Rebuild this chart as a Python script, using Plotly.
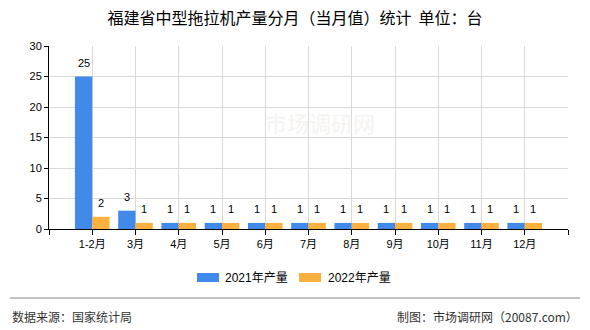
import plotly.graph_objects as go

categories = ["1-2月", "3月", "4月", "5月", "6月", "7月", "8月", "9月", "10月", "11月", "12月"]
values_2021 = [25, 3, 1, 1, 1, 1, 1, 1, 1, 1, 1]
values_2022 = [2, 1, 1, 1, 1, 1, 1, 1, 1, 1, 1]
series_names = ["2021年产量", "2022年产量"]
series_colors = ["#418AEC", "#FBB040"]
y_ticks = [0, 5, 10, 15, 20, 25, 30]

FONT = "Liberation Sans, Arial, Noto Sans CJK SC, sans-serif"
CJK = "Noto Sans CJK SC, sans-serif"
positions = list(range(1, len(categories) + 1))

W, H = 590, 330
L, R, T, B = 49, 22, 46, 101
pw, ph = W - L - R, H - T - B


def px_x(x):
    return (x - L) / pw


def px_y(y):
    return 1 - (y - T) / ph


fig = go.Figure()
for vals, name, color, off in [(values_2021, series_names[0], series_colors[0], -0.4),
                               (values_2022, series_names[1], series_colors[1], 0.0)]:
    fig.add_trace(go.Bar(
        x=positions, y=vals, name=name,
        marker=dict(color=color, line=dict(width=0)),
        width=0.4, offset=off, showlegend=False,
    ))
    for p, v in zip(positions, vals):
        fig.add_annotation(x=p + off + 0.2, y=v, text=str(v), showarrow=False,
                           xref="x", yref="y", yanchor="bottom", yshift=6,
                           font=dict(size=11, color="#000000", family=FONT))

tickvals = list(range(0, len(categories) + 2))
ticktext = [""] + categories + [""]

fig.update_layout(
    width=W, height=H,
    margin=dict(l=L, r=R, t=T, b=B, autoexpand=False),
    paper_bgcolor="white", plot_bgcolor="white",
    font=dict(family=FONT, size=11, color="#000000"),
    barmode="overlay",
    title=dict(text="福建省中型拖拉机产量分月（当月值）统计  单位：台",
               x=0.5, xanchor="center", y=1 - 18 / H, yanchor="middle",
               font=dict(size=16, color="#000000", family=CJK)),
    xaxis=dict(range=[0, len(categories) + 1], tickmode="array",
               tickvals=tickvals, ticktext=ticktext,
               showgrid=True, gridcolor="#D9D9D9", gridwidth=1,
               showline=True, linecolor="#000000", linewidth=1,
               ticks="outside", ticklen=5, tickcolor="#000000",
               tickfont=dict(size=11, family=FONT), zeroline=False, fixedrange=True),
    yaxis=dict(range=[0, 30], tickmode="array", tickvals=y_ticks,
               showgrid=True, gridcolor="#D9D9D9", gridwidth=1,
               showline=True, linecolor="#000000", linewidth=1,
               ticks="outside", ticklen=4, tickcolor="#000000",
               tickfont=dict(size=11, family=FONT), zeroline=False, fixedrange=True),
    showlegend=False,
)

# custom legend (wide rectangular swatches)
legend_items = [(197, 223), (299, 326)]
for (sx, tx), name, color in zip(legend_items, series_names, series_colors):
    fig.add_shape(type="rect", xref="paper", yref="paper",
                  x0=px_x(sx), x1=px_x(sx + 22), y0=px_y(282), y1=px_y(273),
                  fillcolor=color, line=dict(width=0))
    fig.add_annotation(text=name, xref="paper", yref="paper",
                       x=px_x(tx), y=px_y(277.5), xanchor="left", yanchor="middle",
                       showarrow=False, font=dict(size=12, color="#000000", family=FONT))

# footer separator line
fig.add_shape(type="line", xref="paper", yref="paper",
              x0=px_x(10), x1=px_x(580), y0=px_y(298), y1=px_y(298),
              line=dict(color="#888888", width=1))

fig.add_annotation(text="数据来源：国家统计局", xref="paper", yref="paper",
                   x=px_x(10), y=px_y(316), xanchor="left", yanchor="middle",
                   showarrow=False, font=dict(size=12, color="#333333", family=CJK))
fig.add_annotation(text="制图：市场调研网（20087.com）", xref="paper", yref="paper",
                   x=px_x(580), y=px_y(316), xanchor="right", yanchor="middle",
                   showarrow=False, font=dict(size=12, color="#333333", family=CJK))

# faint watermark
fig.add_annotation(text="市场调研网", xref="paper", yref="paper",
                   x=px_x(320), y=px_y(122), xanchor="center", yanchor="middle",
                   showarrow=False, font=dict(size=22, color="rgba(235,230,225,0.5)", family=CJK))

fig.write_html("out.html")
